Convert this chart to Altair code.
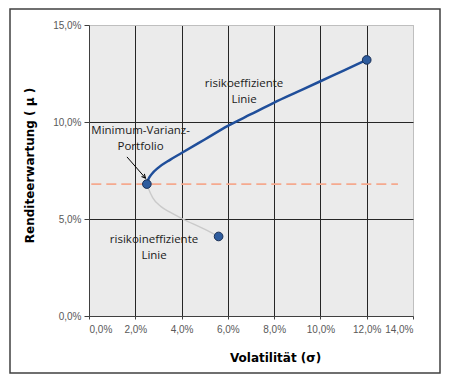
import altair as alt
import pandas as pd

# Efficient frontier (in %)
eff_sigma = [2.5, 2.55, 2.7, 3.0, 3.5, 4.0, 5.0, 6.0, 7.0, 8.0, 9.0, 10.0, 11.0, 12.0]
eff_mu = [6.8, 7.0, 7.3, 7.65, 8.05, 8.4, 9.1, 9.8, 10.4, 11.0, 11.55, 12.1, 12.65, 13.2]

# Inefficient part
ineff_sigma = [2.5, 2.56, 2.75, 3.1, 3.5, 4.05, 4.85, 5.6]
ineff_mu = [6.8, 6.6, 6.1, 5.65, 5.35, 5.0, 4.55, 4.1]

# Marked portfolios
pt_sigma = [2.5, 12.0, 5.6]
pt_mu = [6.8, 13.2, 4.1]

# Minimum-variance return level (dashed line)
mvp_line_sigma = [0.1, 13.35]
mvp_line_mu = [6.8, 6.8]

# Annotations
ann_text = ["risikoeffiziente", "Linie", "Minimum-Varianz-", "Portfolio", "risikoineffiziente", "Linie"]
ann_x = [6.70, 6.70, 2.23, 2.23, 2.81, 2.81]
ann_y = [11.98, 11.13, 9.55, 8.73, 3.92, 3.09]

# Arrow (from label to MVP)
arrow_x = [1.64, 2.44]
arrow_y = [8.2, 7.11]

x_ticks = [0, 2, 4, 6, 8, 10, 12, 14]
y_ticks = [0, 5, 10, 15]

W, H = 324, 291

lab_expr = "replace(format(datum.value, '.1f'), '.', ',') + '%'"

xs = alt.Scale(domain=[0, 14], nice=False)
ys = alt.Scale(domain=[0, 15], nice=False)

grid_color = {"condition": {"test": "datum.value >= 14 || datum.value == 0", "value": "#BFBFBF"}, "value": "#262626"}
grid_color_y = {"condition": {"test": "datum.value >= 15 || datum.value == 0", "value": "#BFBFBF"}, "value": "#262626"}

x_axis = alt.Axis(values=x_ticks, labelExpr=lab_expr, title="Volatilität  (σ)",
                  grid=True, gridColor=grid_color, gridWidth=1,
                  domainColor="#404040", tickColor="#404040", tickSize=3,
                  labelFont="Liberation Sans", labelFontSize=10, labelColor="#595959",
                  labelPadding=5,
                  titleFont="DejaVu Sans", titleFontSize=12, titleFontWeight="bold",
                  titleColor="#000000", titleX=186, titleY=41, titleBaseline="middle",
                  titleAnchor="middle")
y_axis = alt.Axis(values=y_ticks, labelExpr=lab_expr, title="Renditeerwartung ( μ )",
                  grid=True, gridColor=grid_color_y, gridWidth=1,
                  domainColor="#404040", tickColor="#404040", tickSize=5,
                  labelFont="Liberation Sans", labelFontSize=10, labelColor="#595959",
                  labelPadding=3,
                  titleFont="DejaVu Sans", titleFontSize=12, titleFontWeight="bold",
                  titleColor="#000000", titleX=-60, titleY=140, titleBaseline="middle",
                  titleAngle=270)

eff_df = pd.DataFrame({"s": eff_sigma, "m": eff_mu})
ineff_df = pd.DataFrame({"s": ineff_sigma, "m": ineff_mu})
pt_df = pd.DataFrame({"s": pt_sigma, "m": pt_mu})
dash_df = pd.DataFrame({"s": mvp_line_sigma, "m": mvp_line_mu})
ann_df = pd.DataFrame({"t": ann_text, "s": ann_x, "m": ann_y})
arrow_df = pd.DataFrame({"s": [arrow_x[0]], "m": [arrow_y[0]], "s2": [arrow_x[1]], "m2": [arrow_y[1]]})
head_df = pd.DataFrame({"s": [arrow_x[1]], "m": [arrow_y[1]]})
frame_df = pd.DataFrame({"a": [0]})

base_x = alt.X("s:Q", scale=xs, axis=x_axis)
base_y = alt.Y("m:Q", scale=ys, axis=y_axis)

frame = alt.Chart(frame_df).mark_rect(fill=None, stroke="#404040", strokeWidth=1.5, clip=False).encode(
    x=alt.value(-79), x2=alt.value(W + 27), y=alt.value(-16), y2=alt.value(H + 57))

dash = alt.Chart(dash_df).mark_line(color="#F5A98E", strokeWidth=1.8, strokeDash=[10, 5]).encode(
    x=base_x, y=base_y)

ineff = alt.Chart(ineff_df).mark_line(color="#CACACA", strokeWidth=1.4, interpolate="monotone").encode(
    x=alt.X("s:Q", scale=xs), y=alt.Y("m:Q", scale=ys), order=alt.Order("s:Q"))

eff = alt.Chart(eff_df).mark_line(color="#1F4E9A", strokeWidth=2.5, interpolate="monotone").encode(
    x=alt.X("s:Q", scale=xs), y=alt.Y("m:Q", scale=ys), order=alt.Order("s:Q"))

pts = alt.Chart(pt_df).mark_point(filled=True, fill="#2E5C9E", stroke="#1A2F55", strokeWidth=1,
                                   size=75, opacity=1).encode(
    x=alt.X("s:Q", scale=xs), y=alt.Y("m:Q", scale=ys))

arrow = alt.Chart(arrow_df).mark_rule(color="#000000", strokeWidth=1).encode(
    x=alt.X("s:Q", scale=xs), y=alt.Y("m:Q", scale=ys), x2="s2:Q", y2="m2:Q")

head = alt.Chart(head_df).mark_point(shape="M -0.6 -1.2 L 0 0 L 0.6 -1.2", filled=False,
                                     stroke="#000000", strokeWidth=1, size=40, angle=318.6,
                                     opacity=1).encode(
    x=alt.X("s:Q", scale=xs), y=alt.Y("m:Q", scale=ys))

texts = alt.Chart(ann_df).mark_text(font="Open Sans", fontSize=11.5, color="#1A1A1A",
                                    align="center", baseline="middle").encode(
    x=alt.X("s:Q", scale=xs), y=alt.Y("m:Q", scale=ys), text="t:N")

chart = alt.layer(frame, dash, ineff, eff, arrow, head, pts, texts).properties(
    width=W, height=H,
    padding={"left": 81, "top": 17, "right": 29, "bottom": 59},
    autosize=alt.AutoSizeParams(type="none"),
    background="#FFFFFF",
).configure_view(fill="#EBEBEB", stroke="#BFBFBF", strokeWidth=1)

chart.save("out.html", embed_options={"renderer": "svg", "actions": False})
